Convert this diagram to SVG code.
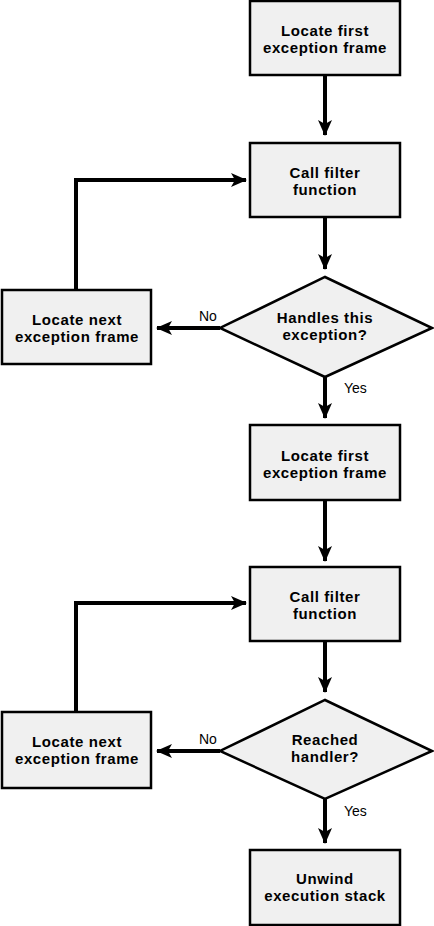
<svg xmlns="http://www.w3.org/2000/svg" width="434" height="926" viewBox="0 0 434 926">
<style>
.box{fill:#f0f0f0;stroke:#000;stroke-width:2.5}
.t{font-family:"Liberation Sans",Arial,sans-serif;font-weight:bold;font-size:15px;letter-spacing:0.6px;text-anchor:middle;fill:#000}
.l{font-family:"Liberation Sans",Arial,sans-serif;font-size:14px;fill:#000}
.c{fill:none;stroke:#000;stroke-width:4;marker-end:url(#ah)}
</style>
<defs>
<marker id="ah" markerUnits="userSpaceOnUse" markerWidth="16" markerHeight="16" viewBox="0 0 16 16" refX="15" refY="8" orient="auto">
<path d="M0,1 L16,8 L0,15 L4,8 z" fill="#000"/>
</marker>
</defs>
<g id="connectors">
<path class="c" d="M325,75 V135"/>
<path class="c" d="M325,217 V269"/>
<path class="c" d="M220,328 H157"/>
<path class="c" d="M76,290 V180 H246"/>
<path class="c" d="M325,377 V418"/>
<path class="c" d="M325,500 V561"/>
<path class="c" d="M325,641 V692"/>
<path class="c" d="M220,751 H157"/>
<path class="c" d="M76,712 V603 H246"/>
<path class="c" d="M325,799 V843"/>
</g>
<g id="labels">
<text class="l" x="199" y="321">No</text>
<text class="l" x="344" y="393">Yes</text>
<text class="l" x="199" y="744">No</text>
<text class="l" x="344" y="816">Yes</text>
</g>
<g id="n1"><rect class="box" x="250" y="1" width="150" height="74"/><text class="t" x="325" y="36">Locate first</text><text class="t" x="325" y="53">exception frame</text></g>
<g id="n2"><rect class="box" x="250" y="143" width="150" height="74"/><text class="t" x="325" y="178">Call filter</text><text class="t" x="325" y="195">function</text></g>
<g id="n3"><polygon class="box" points="325,277 432,328 325,377 220,328"/><text class="t" x="325" y="323">Handles this</text><text class="t" x="325" y="340">exception?</text></g>
<g id="n4"><rect class="box" x="2" y="290" width="149" height="74"/><text class="t" x="77" y="325">Locate next</text><text class="t" x="77" y="342">exception frame</text></g>
<g id="n5"><rect class="box" x="250" y="425" width="150" height="75"/><text class="t" x="325" y="461">Locate first</text><text class="t" x="325" y="478">exception frame</text></g>
<g id="n6"><rect class="box" x="250" y="567" width="150" height="74"/><text class="t" x="325" y="602">Call filter</text><text class="t" x="325" y="619">function</text></g>
<g id="n7"><polygon class="box" points="325,700 432,751 325,799 220,751"/><text class="t" x="325" y="745">Reached</text><text class="t" x="325" y="762">handler?</text></g>
<g id="n8"><rect class="box" x="2" y="712" width="149" height="76"/><text class="t" x="77" y="747">Locate next</text><text class="t" x="77" y="764">exception frame</text></g>
<g id="n9"><rect class="box" x="250" y="850" width="150" height="75"/><text class="t" x="325" y="884">Unwind</text><text class="t" x="325" y="901">execution stack</text></g>
</svg>
